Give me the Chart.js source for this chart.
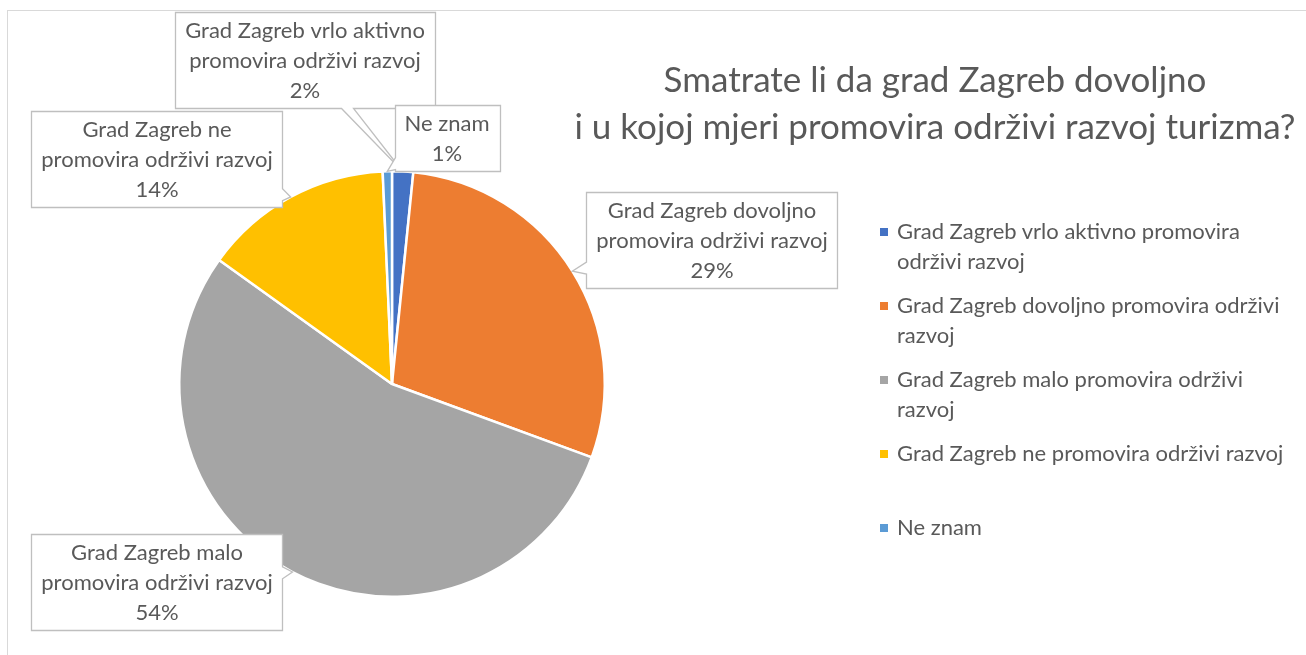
<!DOCTYPE html>
<html>
<head>
<meta charset="utf-8">
<script src="https://cdn.jsdelivr.net/npm/chart.js@4.4.1/dist/chart.umd.min.js"></script>
<style>
  body { margin: 0; background: #fff; width: 1306px; height: 655px; overflow: hidden; position: relative; font-family: Lato, 'Open Sans', sans-serif; color: #595959; }
  #frame { position: absolute; left: 7px; top: 10px; width: 1340px; height: 700px; border: 1px solid #d9d9d9; }
  #pie { position: absolute; left: 0; top: 0; }
  #title { position: absolute; left: 560px; width: 750px; top: 55px; text-align: center; font-size: 35px; line-height: 47px; white-space: nowrap; }
  #legend { position: absolute; left: 878px; top: 216px; width: 425px; }
  .item { position: relative; height: 74px; padding-left: 19px; font-size: 22px; line-height: 30px; }
  .item i { position: absolute; left: 2px; top: 12px; width: 8px; height: 8px; }
</style>
</head>
<body>
<div id="frame"></div>
<canvas id="pie" width="1306" height="655"></canvas>
<div id="title"></div>
<div id="legend"></div>
<script>
const titleLines = ['Smatrate li da grad Zagreb dovoljno', 'i u kojoj mjeri promovira održivi razvoj turizma?'];
const categories = [
  'Grad Zagreb vrlo aktivno promovira održivi razvoj',
  'Grad Zagreb dovoljno promovira održivi razvoj',
  'Grad Zagreb malo promovira održivi razvoj',
  'Grad Zagreb ne promovira održivi razvoj',
  'Ne znam'
];
const shares = [1.6, 29.0, 54.3, 14.4, 0.7];
const colors = ['#4472C4', '#ED7D31', '#A5A5A5', '#FFC000', '#5B9BD5'];

// where each callout box sits, as offset of its centre from the pie centre
const calloutOffsets = [[-87, -324], [320, -144], [-235, 198], [-235, -225], [55, -246]];

document.getElementById('title').innerHTML = titleLines.join('<br>');
document.getElementById('legend').innerHTML = categories
  .map((c, i) => `<div class="item"><i style="background:${colors[i]}"></i>${c}</div>`)
  .join('');

function clamp(v, lo, hi) { return Math.min(Math.max(v, lo), hi); }

// box outline with a wedge pointing at the slice
function calloutPath(ctx, l, t, r, b, tip) {
  const cx = (l + r) / 2, cy = (t + b) / 2;
  const dx = tip.x - cx, dy = tip.y - cy;
  const sx = dx !== 0 ? (r - l) / 2 / Math.abs(dx) : Infinity;
  const sy = dy !== 0 ? (b - t) / 2 / Math.abs(dy) : Infinity;
  const h = 6;
  ctx.beginPath();
  if (sy < sx) {
    const ex = clamp(cx + dx * sy, l + h + 2, r - h - 2);
    if (dy > 0) {
      ctx.moveTo(l, t); ctx.lineTo(r, t); ctx.lineTo(r, b);
      ctx.lineTo(ex + h, b); ctx.lineTo(tip.x, tip.y); ctx.lineTo(ex - h, b);
      ctx.lineTo(l, b);
    } else {
      ctx.moveTo(l, b); ctx.lineTo(l, t);
      ctx.lineTo(ex - h, t); ctx.lineTo(tip.x, tip.y); ctx.lineTo(ex + h, t);
      ctx.lineTo(r, t); ctx.lineTo(r, b);
    }
  } else {
    const ey = clamp(cy + dy * sx, t + h + 2, b - h - 2);
    if (dx > 0) {
      ctx.moveTo(l, t); ctx.lineTo(r, t);
      ctx.lineTo(r, ey - h); ctx.lineTo(tip.x, tip.y); ctx.lineTo(r, ey + h);
      ctx.lineTo(r, b); ctx.lineTo(l, b);
    } else {
      ctx.moveTo(r, t); ctx.lineTo(r, b); ctx.lineTo(l, b);
      ctx.lineTo(l, ey + h); ctx.lineTo(tip.x, tip.y); ctx.lineTo(l, ey - h);
      ctx.lineTo(l, t);
    }
  }
  ctx.closePath();
}

const calloutPlugin = {
  id: 'callouts',
  afterDatasetsDraw(chart) {
    const ctx = chart.ctx;
    const arcs = chart.getDatasetMeta(0).data;
    ctx.save();
    ctx.font = '22px Lato';
    ctx.textAlign = 'center';
    ctx.textBaseline = 'middle';
    arcs.forEach((arc, i) => {
      const { x, y, startAngle, endAngle, outerRadius } = arc.getProps(['x', 'y', 'startAngle', 'endAngle', 'outerRadius'], true);
      const mid = (startAngle + endAngle) / 2;
      const tip = { x: x + Math.cos(mid) * outerRadius, y: y + Math.sin(mid) * outerRadius };
      const lines = categories[i].replace(' promovira', '\npromovira').split('\n');
      lines.push(Math.round(shares[i]) + '%');
      const w = Math.max(...lines.map((s) => ctx.measureText(s).width)) + 20;
      const hgt = lines.length * 30 + 6;
      const cx = x + calloutOffsets[i][0], cy = y + calloutOffsets[i][1];
      const l = Math.round(cx - w / 2) + 0.5, t = Math.round(cy - hgt / 2) + 0.5;
      calloutPath(ctx, l, t, l + Math.round(w), t + hgt, tip);
      ctx.fillStyle = '#ffffff';
      ctx.fill();
      ctx.strokeStyle = '#bfbfbf';
      ctx.lineWidth = 1.3;
      ctx.stroke();
      ctx.fillStyle = '#595959';
      lines.forEach((s, k) => ctx.fillText(s, cx, t + 18 + k * 30));
    });
    ctx.restore();
  }
};

new Chart(document.getElementById('pie'), {
  type: 'pie',
  data: {
    labels: categories,
    datasets: [{
      data: shares,
      backgroundColor: colors,
      borderColor: '#ffffff',
      borderWidth: 2.5
    }]
  },
  options: {
    responsive: false,
    animation: false,
    layout: { padding: { left: 178, top: 170, right: 700, bottom: 57 } },
    plugins: {
      legend: { display: false },
      tooltip: { enabled: false }
    }
  },
  plugins: [calloutPlugin]
});
</script>
</body>
</html>
